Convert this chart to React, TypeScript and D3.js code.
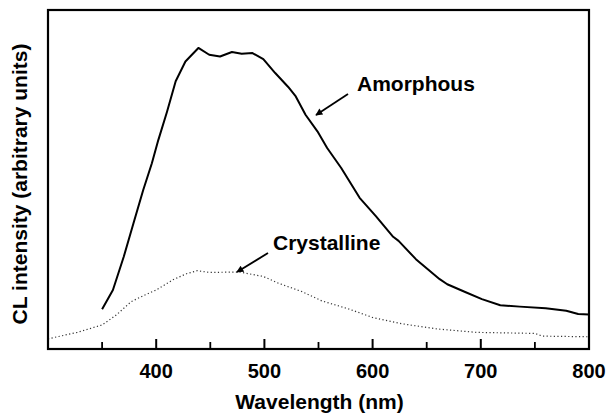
import React from "react";
import * as d3 from "d3";

const amorphousWl = [350, 360, 370, 379, 388, 396, 402, 410, 418, 427, 439, 449, 459, 470, 479, 489, 499, 510, 522, 529, 538, 549, 558, 571, 588, 603, 619, 624, 640, 662, 669, 685, 701, 718, 736, 760, 779, 790, 800];
const amorphousI = [0.117, 0.174, 0.272, 0.371, 0.469, 0.548, 0.617, 0.7, 0.79, 0.848, 0.888, 0.868, 0.863, 0.876, 0.871, 0.873, 0.855, 0.814, 0.773, 0.745, 0.691, 0.642, 0.593, 0.534, 0.446, 0.392, 0.331, 0.319, 0.265, 0.206, 0.191, 0.169, 0.147, 0.129, 0.125, 0.12, 0.113, 0.103, 0.102];

const crystallineWl = [300, 327, 350, 363, 377, 390, 400, 416, 428, 438, 449, 477, 499, 513, 535, 553, 578, 600, 628, 660, 696, 750, 757, 800];
const crystallineI = [0.03, 0.049, 0.071, 0.1, 0.14, 0.16, 0.174, 0.205, 0.222, 0.231, 0.226, 0.227, 0.214, 0.194, 0.169, 0.142, 0.118, 0.093, 0.074, 0.059, 0.049, 0.046, 0.038, 0.036];

const majorTicks = [400, 500, 600, 700, 800];
const minorTicks = [350, 450, 550, 650, 750];
const xTitle = "Wavelength (nm)";
const yTitle = "CL intensity (arbitrary units)";

export default function App() {
  const W = 609, H = 413;
  const left = 48, right = 589, top = 10, bottom = 349;
  const x = d3.scaleLinear().domain([300, 800]).range([left, right]);
  const y = d3.scaleLinear().domain([0, 1]).range([bottom, top]);
  const line = d3.line<[number, number]>().x(d => x(d[0])).y(d => y(d[1]));
  const amorph = line(amorphousWl.map((w, i) => [w, amorphousI[i]] as [number, number])) || "";
  const cryst = line(crystallineWl.map((w, i) => [w, crystallineI[i]] as [number, number])) || "";
  const font = "'Liberation Sans', Arial, sans-serif";
  return (
    <svg width={W} height={H} style={{ position: "absolute", left: 0, top: 0, background: "#fff" }}>
      <defs>
        <marker id="ah" viewBox="0 0 10 10" refX="9" refY="5" markerWidth="8" markerHeight="7" orient="auto" markerUnits="userSpaceOnUse">
          <path d="M0,0 L10,5 L0,10 z" fill="#000" />
        </marker>
      </defs>
      <path d={cryst} fill="none" stroke="#333" strokeWidth={1.2} strokeDasharray="1.2 2.4" />
      <path d={amorph} fill="none" stroke="#000" strokeWidth={2} strokeLinejoin="round" />
      {majorTicks.map(t => (
        <line key={"M" + t} x1={x(t)} x2={x(t)} y1={bottom} y2={bottom - 10} stroke="#000" strokeWidth={2} />
      ))}
      {minorTicks.map(t => (
        <line key={"m" + t} x1={x(t)} x2={x(t)} y1={bottom} y2={bottom - 7} stroke="#000" strokeWidth={1.8} />
      ))}
      <rect x={left} y={top} width={right - left} height={bottom - top} fill="none" stroke="#000" strokeWidth={2.2} />
      {majorTicks.map(t => (
        <text key={"l" + t} x={x(t)} y={378} textAnchor="middle" fontFamily={font} fontWeight="bold" fontSize={20}>{t}</text>
      ))}
      <text x={(left + right) / 2 + 1} y={409} textAnchor="middle" fontFamily={font} fontWeight="bold" fontSize={21}>{xTitle}</text>
      <text transform={`translate(27, ${184}) rotate(-90)`} textAnchor="middle" fontFamily={font} fontWeight="bold" fontSize={21}>{yTitle}</text>
      <text x={357} y={91} fontFamily={font} fontWeight="bold" fontSize={21}>Amorphous</text>
      <line x1={348} y1={94} x2={316} y2={115} stroke="#000" strokeWidth={1.8} markerEnd="url(#ah)" />
      <text x={273} y={250} fontFamily={font} fontWeight="bold" fontSize={21}>Crystalline</text>
      <line x1={268} y1={253} x2={237} y2={272} stroke="#000" strokeWidth={1.8} markerEnd="url(#ah)" />
    </svg>
  );
}
